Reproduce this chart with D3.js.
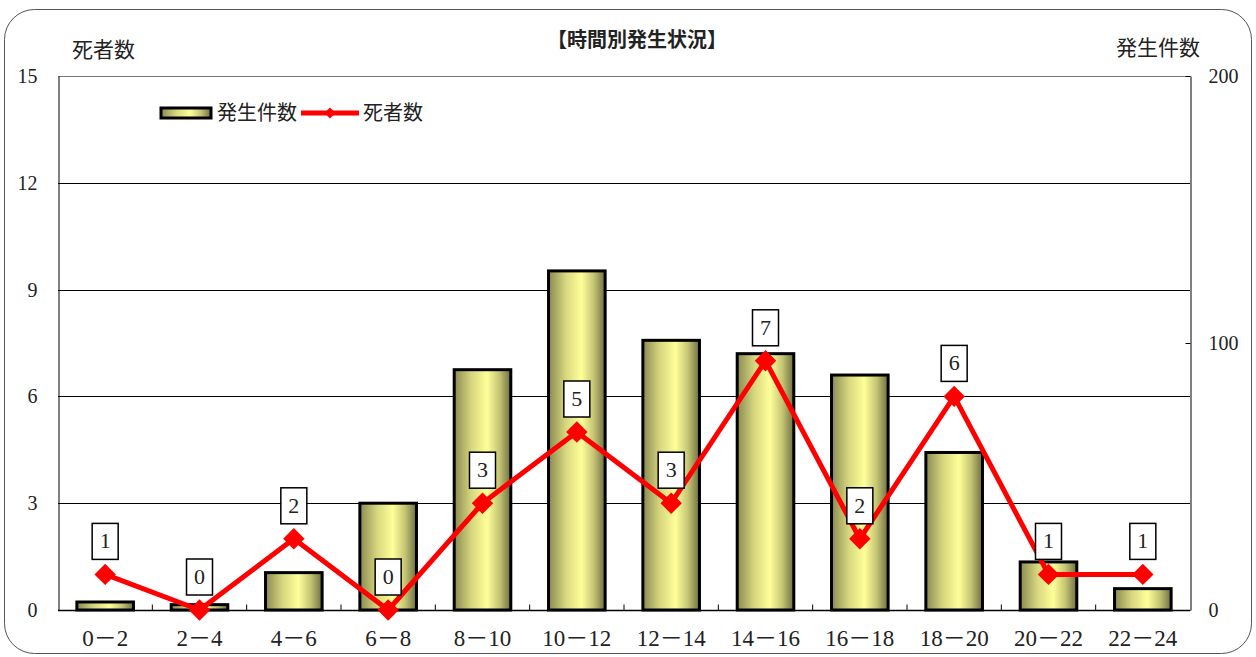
<!DOCTYPE html>
<html>
<head>
<meta charset="utf-8">
<script src="https://cdn.jsdelivr.net/npm/d3@7"></script>
<style>
  body { margin: 0; background: #fff; }
  svg text { font-family: "Liberation Serif", "Noto Sans CJK JP", serif !important; fill: #222; }
</style>
</head>
<body>
<div id="chart"></div>
<script>
// data
const hours = ["0－2", "2－4", "4－6", "6－8", "8－10", "10－12", "12－14", "14－16", "16－18", "18－20", "20－22", "22－24"];
const cases = [3, 2, 14, 40, 90, 127, 101, 96, 88, 59, 18, 8];
const deaths = [1, 0, 2, 0, 3, 5, 3, 7, 2, 6, 1, 1];
const leftTicks = [0, 3, 6, 9, 12, 15];
const rightTicks = [0, 100, 200];

const width = 1256, height = 657;
const margin = { top: 76, right: 66, bottom: 47, left: 58 };

const svg = d3.select("#chart").append("svg")
    .attr("width", width)
    .attr("height", height);

// outer rounded frame
svg.append("rect")
    .attr("x", 4.5).attr("y", 9.5)
    .attr("width", 1247).attr("height", 644)
    .attr("rx", 30).attr("ry", 30)
    .attr("fill", "none")
    .attr("stroke", "#555");

const x = d3.scaleBand()
    .domain(hours)
    .range([margin.left, width - margin.right])
    .paddingInner(0.4)
    .paddingOuter(0.2);

const yL = d3.scaleLinear().domain([0, 15]).range([height - margin.bottom, margin.top]);
const yR = d3.scaleLinear().domain([0, 200]).range([height - margin.bottom, margin.top]);

// gradient for bars
const defs = svg.append("defs");
const grad = defs.append("linearGradient")
    .attr("id", "barGrad")
    .attr("x1", "0%").attr("x2", "100%").attr("y1", "0%").attr("y2", "0%");
grad.append("stop").attr("offset", "0%").attr("stop-color", "#8a8a52");
grad.append("stop").attr("offset", "30%").attr("stop-color", "#d6d67e");
grad.append("stop").attr("offset", "58%").attr("stop-color", "#ffff99");
grad.append("stop").attr("offset", "80%").attr("stop-color", "#c4c474");
grad.append("stop").attr("offset", "100%").attr("stop-color", "#6e6e42");

// gridlines
svg.append("g")
    .selectAll("line")
    .data(leftTicks.filter(d => d > 0))
    .join("line")
    .attr("x1", margin.left).attr("x2", width - margin.right)
    .attr("y1", d => Math.round(yL(d)) + 0.5).attr("y2", d => Math.round(yL(d)) + 0.5)
    .attr("stroke", d => d === 15 ? "#777" : "#000")
    .attr("stroke-width", 1);

// left axis
const leftAxis = svg.append("g")
    .attr("transform", `translate(${margin.left + 0.5},0)`)
    .call(d3.axisLeft(yL).tickValues(leftTicks).tickSize(0).tickPadding(21));
leftAxis.attr("font-family", null);
leftAxis.select(".domain").attr("stroke", "#000");
leftAxis.selectAll("text").style("font-size", "20px").attr("fill", "#222");

// right axis (ticks point inward)
const rightAxis = svg.append("g")
    .attr("transform", `translate(${width - margin.right + 0.5},0)`)
    .call(d3.axisRight(yR).tickValues(rightTicks).tickSizeInner(-5).tickSizeOuter(0).tickPadding(18));
rightAxis.attr("font-family", null);
rightAxis.select(".domain").attr("stroke", "#000");
rightAxis.selectAll("line").attr("stroke", "#000");
rightAxis.selectAll("text").style("font-size", "20px").attr("fill", "#222");

// bars
svg.append("g")
    .selectAll("rect")
    .data(hours)
    .join("rect")
    .attr("x", d => x(d))
    .attr("width", x.bandwidth())
    .attr("y", (d, i) => yR(cases[i]))
    .attr("height", (d, i) => yR(0) - yR(cases[i]))
    .attr("fill", "url(#barGrad)")
    .attr("stroke", "#000")
    .attr("stroke-width", 3);

// bottom axis
const step = x.step();
const xAxis = svg.append("g")
    .attr("transform", `translate(0,${height - margin.bottom + 0.5})`);
xAxis.append("line")
    .attr("x1", margin.left).attr("x2", width - margin.right)
    .attr("stroke", "#000").attr("stroke-width", 1.5);
xAxis.selectAll(".tk")
    .data(hours.slice(1))
    .join("line")
    .attr("class", "tk")
    .attr("x1", d => x(d) - step * 0.2).attr("x2", d => x(d) - step * 0.2)
    .attr("y1", 0).attr("y2", -6)
    .attr("stroke", "#000");
xAxis.selectAll("text")
    .data(hours)
    .join("text")
    .attr("x", d => x(d) + x.bandwidth() / 2)
    .attr("y", 35)
    .attr("text-anchor", "middle")
    .style("font-size", "23px")
    .text(d => d);

// death line
const line = d3.line()
    .x((d, i) => x(hours[i]) + x.bandwidth() / 2)
    .y(d => yL(d));

svg.append("path")
    .datum(deaths)
    .attr("d", line)
    .attr("fill", "none")
    .attr("stroke", "#ff0000")
    .attr("stroke-width", 5)
    .attr("stroke-linejoin", "round");

svg.append("g")
    .selectAll("path")
    .data(deaths)
    .join("path")
    .attr("d", d3.symbol().type(d3.symbolSquare).size(230))
    .attr("transform", (d, i) => `translate(${x(hours[i]) + x.bandwidth() / 2},${yL(d)}) rotate(45)`)
    .attr("fill", "#ff0000");

// value labels
const lbl = svg.append("g")
    .selectAll("g")
    .data(deaths)
    .join("g")
    .attr("transform", (d, i) => `translate(${x(hours[i]) + x.bandwidth() / 2},${yL(d) - 34})`);
lbl.append("rect")
    .attr("x", -13).attr("y", -17)
    .attr("width", 26).attr("height", 36)
    .attr("fill", "#fff")
    .attr("stroke", "#000")
    .attr("stroke-width", 1.5);
lbl.append("text")
    .attr("text-anchor", "middle")
    .attr("y", 8)
    .style("font-size", "22px")
    .text(d => d);

// titles
svg.append("text")
    .attr("x", 637).attr("y", 47)
    .attr("text-anchor", "middle")
    .style("font-size", "20px")
    .style("font-weight", "bold")
    .text("【時間別発生状況】");
svg.append("text")
    .attr("x", 72).attr("y", 57)
    .style("font-size", "21px")
    .text("死者数");
svg.append("text")
    .attr("x", 1200).attr("y", 55)
    .attr("text-anchor", "end")
    .style("font-size", "21px")
    .text("発生件数");

// legend
const legend = svg.append("g").attr("transform", "translate(160,113)");
legend.append("rect")
    .attr("x", 1).attr("y", -5)
    .attr("width", 50).attr("height", 10)
    .attr("fill", "url(#barGrad)")
    .attr("stroke", "#000")
    .attr("stroke-width", 3);
legend.append("text")
    .attr("x", 57).attr("y", 7)
    .style("font-size", "20px")
    .text("発生件数");
legend.append("line")
    .attr("x1", 141).attr("x2", 199)
    .attr("stroke", "#ff0000").attr("stroke-width", 5);
legend.append("path")
    .attr("d", d3.symbol().type(d3.symbolSquare).size(60))
    .attr("transform", "translate(170,0) rotate(45)")
    .attr("fill", "#ff0000");
legend.append("text")
    .attr("x", 203).attr("y", 7)
    .style("font-size", "20px")
    .text("死者数");
</script>
</body>
</html>
